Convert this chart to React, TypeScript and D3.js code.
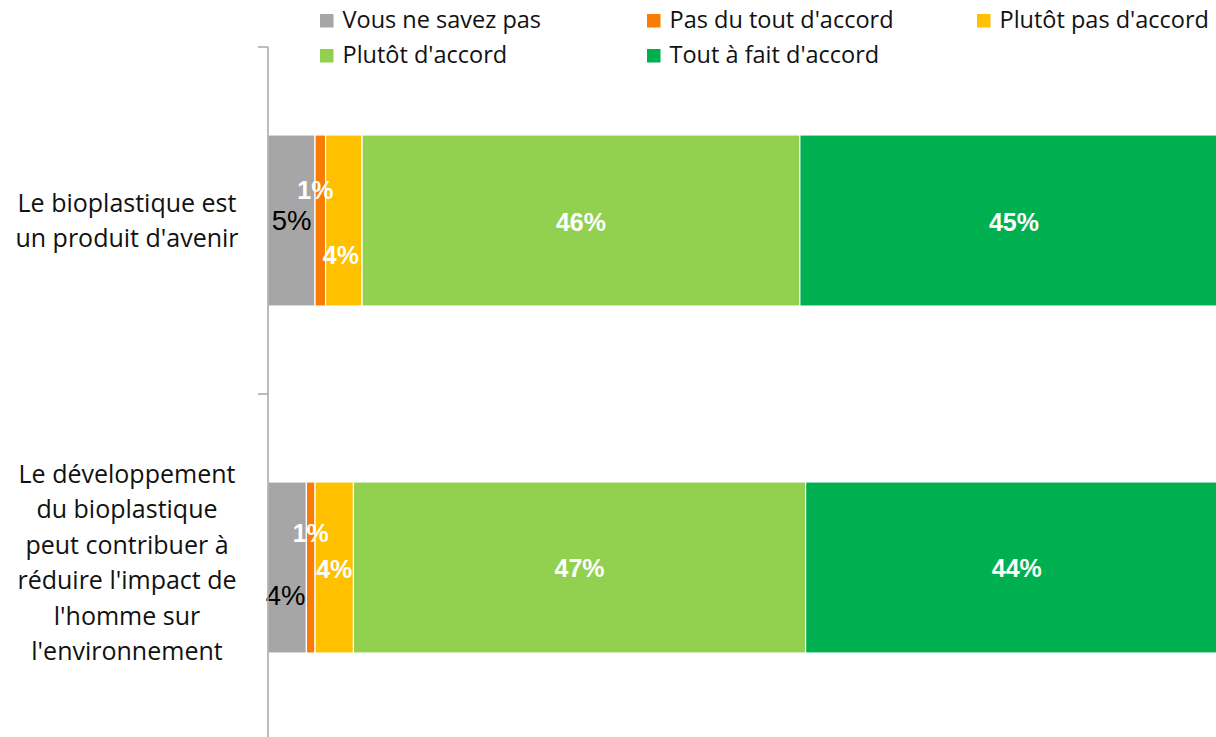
import React from "react";
import * as d3 from "d3";

// ---- data ----
const categories = ["cat1", "cat2"];
const categoryLines = [
  ["Le bioplastique est", "un produit d'avenir"],
  [
    "Le développement",
    "du bioplastique",
    "peut contribuer à",
    "réduire l'impact de",
    "l'homme sur",
    "l'environnement",
  ],
];
const seriesNames = [
  "Vous ne savez pas",
  "Pas du tout d'accord",
  "Plutôt pas d'accord",
  "Plutôt d'accord",
  "Tout à fait d'accord",
];
const vousNeSavezPas = [4.9, 4.0];
const pasDuToutDaccord = [1.1, 0.9];
const plutotPasDaccord = [3.8, 4.0];
const plutotDaccord = [45.6, 47.1];
const toutAFaitDaccord = [44.6, 44.0];

// ---- styles ----
const seriesColors = ["#a6a6a6", "#f97d05", "#ffc000", "#92d050", "#00b050"];
const labelFill = ["#000000", "#ffffff", "#ffffff", "#ffffff", "#ffffff"];
const labelBold = [false, true, true, true, true];
// manual label nudges [category][series] = [dx, dy]
const labelNudges = [
  [[0, 0], [-5, -30], [-3, 35], [0, 2], [0, 2]],
  [[-1.5, 28], [0, -34.5], [0, 2], [0, 1], [0, 1]],
];
const categoryNudge = [0, -5];

const W = 1216;
const H = 737;
const AXIS_X = 268;
const PLOT_TOP = 47;
const PLOT_BOTTOM = 741;
const FONT = "'Open Sans', 'Noto Sans', sans-serif";
const NUMFONT = "'Liberation Sans', Arial, sans-serif";

export default function App() {
  const seriesValues = [
    vousNeSavezPas,
    pasDuToutDaccord,
    plutotPasDaccord,
    plutotDaccord,
    toutAFaitDaccord,
  ];
  const table = categories.map((c, i) => {
    const row: any = { cat: c };
    seriesNames.forEach((s, j) => (row[s] = seriesValues[j][i]));
    return row;
  });
  const stacked = d3.stack<any>().keys(seriesNames)(table);

  const x = d3.scaleLinear().domain([0, 100]).range([AXIS_X, AXIS_X + 960]);
  const y = d3
    .scaleBand<string>()
    .domain(categories)
    .range([PLOT_TOP, PLOT_BOTTOM])
    .paddingInner(0.507)
    .paddingOuter(0.2535);
  const step = y.step();
  const boundaries = d3.range(categories.length + 1).map((i) => PLOT_TOP + i * step);

  const legendCols = [320, 647, 977];
  const legendRows = [28, 63];
  const sq = 13.5;

  return (
    <svg
      width={W}
      height={H}
      style={{ position: "absolute", left: 0, top: 0, display: "block", background: "#ffffff" }}
    >
      {/* bars */}
      {stacked.map((layer, j) => (
        <g key={seriesNames[j]}>
          {layer.map((d, i) => (
            <rect
              key={i}
              x={x(d[0])}
              y={y(categories[i])!}
              width={x(d[1]) - x(d[0])}
              height={y.bandwidth()}
              fill={seriesColors[j]}
              stroke="#ffffff"
              strokeWidth={1.2}
            />
          ))}
        </g>
      ))}
      {/* bar labels */}
      {stacked.map((layer, j) => (
        <g key={"lab" + j}>
          {layer.map((d, i) => {
            const v = d[1] - d[0];
            const fs = labelBold[j] ? 25 : 27.5;
            const cx = (x(d[0]) + x(d[1])) / 2 + labelNudges[i][j][0];
            const cy = y(categories[i])! + y.bandwidth() / 2 + fs * 0.358 + labelNudges[i][j][1];
            return (
              <text
                key={i}
                x={cx}
                y={cy}
                textAnchor="middle"
                fontFamily={NUMFONT}
                fontSize={fs}
                fontWeight={labelBold[j] ? "bold" : "normal"}
                fill={labelFill[j]}
              >
                {Math.round(v) + "%"}
              </text>
            );
          })}
        </g>
      ))}
      {/* axis */}
      <line x1={AXIS_X} x2={AXIS_X} y1={PLOT_TOP} y2={PLOT_BOTTOM} stroke="#a6a6a6" strokeWidth={1.5} />
      {boundaries.map((b, i) => (
        <line key={i} x1={AXIS_X - 10} x2={AXIS_X} y1={b} y2={b} stroke="#a6a6a6" strokeWidth={1.5} />
      ))}
      {/* category labels */}
      {categories.map((c, i) => {
        const lines = categoryLines[i];
        const lh = 35.4;
        const center = y(c)! + y.bandwidth() / 2 + categoryNudge[i];
        const first = center - ((lines.length - 1) / 2) * lh + 9;
        return (
          <text
            key={c}
            textAnchor="middle"
            fontFamily={FONT}
            fontSize={25}
            fill="#111111"
          >
            {lines.map((l, k) => (
              <tspan key={k} x={127} y={first + k * lh}>
                {l}
              </tspan>
            ))}
          </text>
        );
      })}
      {/* legend */}
      {seriesNames.map((s, j) => {
        const col = j % 3;
        const row = Math.floor(j / 3);
        const lx = legendCols[col];
        const ly = legendRows[row];
        return (
          <g key={s}>
            <rect x={lx} y={ly - sq - 0.5} width={sq} height={sq} fill={seriesColors[j]} />
            <text x={lx + 22.5} y={ly} fontFamily={FONT} fontSize={23.5} fill="#111111">
              {s}
            </text>
          </g>
        );
      })}
    </svg>
  );
}
